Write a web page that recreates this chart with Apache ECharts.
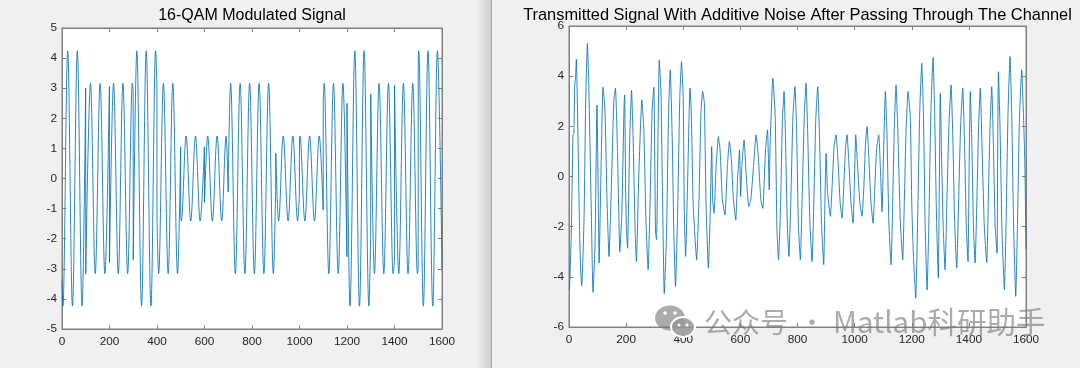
<!DOCTYPE html>
<html>
<head>
<meta charset="utf-8">
<script src="https://cdn.jsdelivr.net/npm/echarts@6/dist/echarts.min.js"></script>
<style>
html,body{margin:0;padding:0;background:#f0f0f0;}
#c{width:1080px;height:368px;}
</style>
</head>
<body>
<div id="c"></div>
<script>
// ---------- data ----------
const xTicks = [0, 200, 400, 600, 800, 1000, 1200, 1400, 1600];
const leftYTicks = [-5, -4, -3, -2, -1, 0, 1, 2, 3, 4, 5];
const rightYTicks = [-6, -4, -2, 0, 2, 4, 6];
const leftTitle = '16-QAM Modulated Signal';
const rightTitle = 'Transmitted Signal With Additive Noise After Passing Through The Channel';

// 16-QAM signal: one list per symbol interval (start, peaks/troughs, end)
const qamSegments = [
  [[0,-3.4],[4,-4.24],[24,4.24],[44,-4.24],[64.5,4.24],[84.5,-4.24],[99.6,3.0]],
  [[100,-3.16],[120,3.16],[140,-3.16],[160.5,3.16],[180.5,-3.16],[199.6,3.05]],
  [[200,-2.8],[217,3.16],[237,-3.16],[256.5,3.16],[276.5,-3.16],[296,3.16],[299.6,2.9]],
  [[300,-2.7],[315,4.24],[335,-4.24],[354.5,4.24],[374.5,-4.24],[394,4.24],[399.6,3.1]],
  [[400,-1.4],[407,-3.16],[427,3.16],[447,-3.16],[466.5,3.16],[486.5,-3.16],[499.6,1.05]],
  [[500,-1.3],[502.5,-1.41],[522.5,1.41],[542,-1.41],[562,1.41],[581.5,-1.41],[599.6,1.05]],
  [[600,-0.8],[613.5,1.41],[633,-1.41],[653,1.41],[672.5,-1.41],[691,1.41],[699.6,-0.45]],
  [[700,0],[710,3.16],[730,-3.16],[750,3.16],[770,-3.16],[790,3.16],[810,-3.16],[830,3.16],[850,-3.16],[870,3.16],[890,-3.16],[899.6,-0.4]],
  [[900,0.84],[912,-1.41],[931.5,1.41],[952,-1.41],[972,1.41],[992,-1.41],[999.6,-0.55]],
  [[1000,1.35],[1002,1.41],[1022.5,-1.41],[1042.5,1.41],[1063,-1.41],[1083,1.41],[1099.6,-1.05]],
  [[1100,2.6],[1104,3.16],[1123.5,-3.16],[1143,3.16],[1163,-3.16],[1183,3.16],[1199.6,-2.6]],
  [[1200,2.5],[1212.5,-4.24],[1233,4.24],[1252.5,-4.24],[1272,4.24],[1292,-4.24],[1299.6,-1.9]],
  [[1300,2.8],[1315.5,-3.16],[1335,3.16],[1355,-3.16],[1374.5,3.16],[1394,-3.16],[1399.6,-2.8]],
  [[1400,3.1],[1418,-3.16],[1437.5,3.16],[1457,-3.16],[1477,3.16],[1496.5,-3.16],[1499.6,-3.0]],
  [[1500,4.0],[1502,4.24],[1521.5,-4.24],[1541,4.24],[1561,-4.24],[1580.5,4.24],[1600,-3.0]]
];

// noisy channel output
const noisySignal = [
  [0,-4.5],[2,-4.4],[8,-2.3],[14,1.66],[17,1.7],[20,3.6],[23,4.0],[25.7,4.67],[31.6,1.46],[37,-2.12],
  [41,-3.8],[44.5,-4.35],[52.6,-1.73],[58.5,3.05],[64.4,5.3],[69,3.78],[78.4,-1.6],[84,-4.62],[91,-2.79],[98,2.85],
  [103,-1.46],[105.5,-3.45],[111,-0.4],[119,3.56],[126,2.65],[133,-0.93],[140,-3.19],[147,-0.93],[157,3.05],[162.6,3.52],
  [169.7,1.06],[178,-3.0],[185,-1.46],[193,2.92],[195,3.25],[198,-0.4],[201,-2.0],[205,-2.86],[213,1.73],[219,3.43],
  [224.6,1.46],[231.7,-2.26],[236,-3.39],[244.5,0.13],[255,3.05],[262,1.86],[269,-1.6],[277,-3.72],[283,-1.46],[291,2.65],
  [297,3.56],[303,-2.26],[306.5,-2.52],[312,1.99],[316,4.65],[322,3.32],[327.6,-0.93],[333.5,-4.67],[341.6,-2.26],[348.7,2.65],
  [354.5,4.25],[361.5,1.46],[367,-2.26],[373,-4.38],[380,-1.6],[388,3.19],[394,4.58],[400,3.05],[403.6,-1.33],[408.3,-3.19],
  [416.5,0.4],[423.5,3.52],[428,2.65],[435,-1.2],[447,-3.32],[455,-0.93],[462,2.52],[468,3.39],[474,2.92],[480,-1.2],
  [488,-3.65],[494,-1.6],[499.6,1.2],[503,-0.93],[508,-1.46],[515,0.4],[523,1.59],[529,1.06],[537,-0.93],[546,-1.53],
  [554.6,0.4],[561.6,1.4],[568.6,0.66],[575.6,-0.93],[584,-1.73],[590,-0.13],[597,1.06],[601,-0.8],[605,0.4],[613,1.46],
  [620,0.13],[629.5,-1.2],[636.5,-0.93],[646,0.4],[655,1.66],[662,0.93],[671.6,-0.93],[678.6,-1.27],[688,1.06],[695,1.86],
  [701,-0.53],[704,1.2],[713.7,3.92],[722,2.39],[728,-2.12],[733.6,-3.32],[741,-1.0],[747,2.2],[752.9,3.39],[758,1.5],
  [764,-1.8],[770,-3.19],[777,-0.8],[784,2.4],[791,3.58],[797,1.8],[803,-1.9],[810,-3.32],[817,-0.5],[824,2.5],
  [830,3.72],[836,1.6],[843,-1.7],[851,-3.39],[858,-0.6],[864,2.3],[870.8,3.58],[877,1.6],[884,-1.9],[891.8,-3.52],
  [896,-1.0],[900,0.93],[905,-0.6],[915,-1.59],[922,-0.2],[928,1.2],[935,1.66],[942,0.6],[949,-1.0],[956,-1.66],
  [962,-0.4],[968,1.1],[973.5,1.66],[980,0.5],[987,-1.0],[994.5,-1.86],[999,-0.3],[1003.9,1.66],[1010,0.5],[1018,-1.0],
  [1026,-1.59],[1032,-0.5],[1038,1.3],[1043.5,1.99],[1050,0.7],[1057,-1.0],[1064.5,-1.86],[1070,-0.6],[1077,1.1],[1084.4,1.66],
  [1090,0.4],[1096,-1.4],[1101,0.8],[1107.7,3.39],[1113,1.8],[1120,-1.9],[1127.6,-3.52],[1133,-1.2],[1139,2.0],[1145,3.65],
  [1151,1.9],[1160,-1.8],[1168.4,-3.32],[1174,-1.0],[1180,1.8],[1187,3.39],[1195,2.39],[1200,-1.06],[1206,-3.2],[1214,-4.85],
  [1221,-1.5],[1228,2.6],[1235,4.51],[1241,2.4],[1247,-2.0],[1253.7,-4.52],[1260,-1.8],[1267,2.6],[1274.7,4.75],[1280,2.6],
  [1287,-1.8],[1293,-4.05],[1296,-1.0],[1300,3.32],[1304,1.0],[1310,-2.0],[1316.7,-3.72],[1323,-1.0],[1330,2.0],[1337.7,3.65],
  [1344,1.5],[1350,-1.8],[1357.5,-3.65],[1364,-1.0],[1371,2.0],[1378.5,3.52],[1385,1.2],[1391,-2.0],[1397,-3.39],[1401,0.5],
  [1405,3.39],[1411,1.0],[1416,-2.0],[1421.7,-3.45],[1428,-1.0],[1434,2.0],[1440,3.52],[1446,1.2],[1454,-2.0],[1462.6,-3.43],
  [1468,-1.0],[1474,2.0],[1480,3.58],[1486,1.2],[1492,-2.0],[1498.8,-3.06],[1500.5,0.5],[1503.4,4.18],[1509,2.0],[1516,-2.2],
  [1524.4,-4.52],[1530,-2.0],[1537,2.5],[1544,4.78],[1550,2.5],[1557,-2.2],[1564,-4.78],[1570,-2.0],[1577,2.3],[1585,4.25],
  [1591,2.5],[1596,0.5],[1600,-2.9]
];

// ---------- chart ----------
const FONT = '"Liberation Sans", Arial, Helvetica, sans-serif';
const LINE = '#0072BD';
const AXIS = '#808080';
const LABEL = '#262626';

const grids = [
  {left: 62, top: 28, width: 380, height: 301},
  {left: 569, top: 26, width: 457, height: 301}
];

function axisDef(gridIndex, ticks, isX, showLabel, pos) {
  return {
    gridIndex: gridIndex,
    type: 'value',
    min: ticks[0],
    max: ticks[ticks.length - 1],
    interval: ticks[1] - ticks[0],
    position: pos,
    axisLine: {show: true, onZero: false, lineStyle: {color: AXIS, width: 1}},
    axisTick: {show: true, inside: true, length: 4, lineStyle: {color: AXIS, width: 1}},
    axisLabel: {show: showLabel, color: LABEL, fontSize: 11.8, fontFamily: FONT, margin: isX ? 7 : 5,
      formatter: function (v) { return String(v); }},
    splitLine: {show: false}
  };
}

const xAxes = [], yAxes = [];
[0, 1].forEach(function (g) {
  const yt = g === 0 ? leftYTicks : rightYTicks;
  xAxes.push(axisDef(g, xTicks, true, true, 'bottom'));
  xAxes.push(axisDef(g, xTicks, true, false, 'top'));
  yAxes.push(axisDef(g, yt, false, true, 'left'));
  yAxes.push(axisDef(g, yt, false, false, 'right'));
});

const LW = 0.85;
const series = [];
qamSegments.forEach(function (seg, i) {
  series.push({
    type: 'line', xAxisIndex: 0, yAxisIndex: 0, data: seg,
    showSymbol: false, smooth: 0.36, smoothMonotone: 'x',
    lineStyle: {color: LINE, width: LW}, silent: true
  });
  if (i < qamSegments.length - 1) {
    const nxt = qamSegments[i + 1];
    series.push({
      type: 'line', xAxisIndex: 0, yAxisIndex: 0,
      data: [seg[seg.length - 1], nxt[0]],
      showSymbol: false, smooth: false,
      lineStyle: {color: LINE, width: LW}, silent: true
    });
  }
});
series.push({
  type: 'line', xAxisIndex: 2, yAxisIndex: 2, data: noisySignal,
  showSymbol: false, smooth: 0.15,
  lineStyle: {color: LINE, width: LW}, silent: true
});

const wmColor = 'rgba(120,120,120,0.62)';
const wmFont = '"Noto Sans CJK SC", "Noto Sans", sans-serif';
const graphics = [
  // window separator / shadow
  {type: 'rect', z: 0, shape: {x: 476, y: 0, width: 15, height: 368},
   style: {fill: {type: 'linear', x: 0, y: 0, x2: 1, y2: 0,
     colorStops: [{offset: 0, color: '#f0f0f0'}, {offset: 1, color: '#cfcfcf'}]}}},
  {type: 'rect', z: 0, shape: {x: 491, y: 0, width: 1, height: 368}, style: {fill: '#a9a9a9'}},
  // titles
  {type: 'text', z: 10, style: {text: leftTitle, x: 252, y: 16, align: 'center', verticalAlign: 'middle',
    font: '16px ' + FONT, fill: '#000'}},
  {type: 'text', z: 10, style: {text: rightTitle, x: 797.5, y: 15, align: 'center', verticalAlign: 'middle',
    font: '16.4px ' + FONT, fill: '#000'}},
  // watermark
  {type: 'ellipse', z: 50, shape: {cx: 670, cy: 318, rx: 15, ry: 12.5}, style: {fill: wmColor}},
  {type: 'ellipse', z: 51, shape: {cx: 683, cy: 327, rx: 12, ry: 10}, style: {fill: 'rgba(150,150,150,0.85)', stroke: '#fff', lineWidth: 2}},
  {type: 'circle', z: 52, shape: {cx: 665, cy: 313, r: 1.8}, style: {fill: '#fff'}},
  {type: 'circle', z: 52, shape: {cx: 675, cy: 313, r: 1.8}, style: {fill: '#fff'}},
  {type: 'circle', z: 52, shape: {cx: 679, cy: 325, r: 1.5}, style: {fill: '#fff'}},
  {type: 'circle', z: 52, shape: {cx: 687, cy: 325, r: 1.5}, style: {fill: '#fff'}},
  {type: 'text', z: 50, style: {text: '公众号', x: 704, y: 322, align: 'left', verticalAlign: 'middle',
    font: '28px ' + wmFont, fill: wmColor}},
  {type: 'text', z: 50, style: {text: '·', x: 812, y: 322, align: 'center', verticalAlign: 'middle',
    font: '26px ' + wmFont, fill: wmColor}},
  {type: 'text', z: 50, style: {text: 'Matlab科研助手', x: 833, y: 322, align: 'left', verticalAlign: 'middle',
    font: '29.5px ' + wmFont, fill: wmColor}}
];

const chart = echarts.init(document.getElementById('c'), null, {renderer: 'canvas'});
chart.setOption({
  animation: false,
  backgroundColor: '#f0f0f0',
  grid: grids.map(function (g) {
    return Object.assign({show: true, backgroundColor: '#ffffff', borderColor: AXIS, borderWidth: 1, containLabel: false}, g);
  }),
  xAxis: xAxes,
  yAxis: yAxes,
  series: series,
  graphic: graphics
});
</script>
</body>
</html>
